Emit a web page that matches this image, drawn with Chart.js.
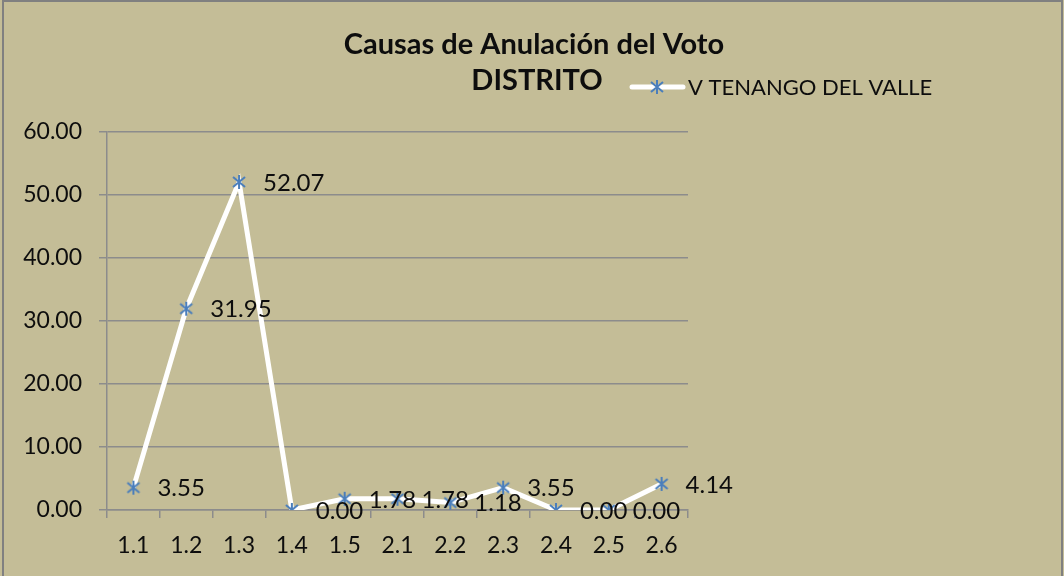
<!DOCTYPE html>
<html>
<head>
<meta charset="utf-8">
<style>
  html, body { margin: 0; padding: 0; background: #C4BD97; }
  #wrap { width: 1064px; height: 576px; }
</style>
</head>
<body>
<div id="wrap"><canvas id="myChart" width="1064" height="576"></canvas></div>

<script src="https://cdn.jsdelivr.net/npm/chart.js"></script>
<script>
  const categories = ['1.1', '1.2', '1.3', '1.4', '1.5', '2.1', '2.2', '2.3', '2.4', '2.5', '2.6'];
  const valores = [3.55, 31.95, 52.07, 0.00, 1.78, 1.78, 1.18, 3.55, 0.00, 0.00, 4.14];
  const serieNombre = 'V TENANGO DEL VALLE';
  const titulo = ['Causas de Anulación del Voto', 'DISTRITO'];
  const yTicks = [0, 10, 20, 30, 40, 50, 60];

  const fuente = 'Lato, "Open Sans", sans-serif';
  const azul = '#4A7EBB';
  const gris = '#8C8C8C';
  const negro = '#0D0D0D';

  // marcador tipo asterisco (X + línea vertical), como en Excel
  const marca = document.createElement('canvas');
  marca.width = 16; marca.height = 16;
  (function () {
    const c = marca.getContext('2d');
    c.strokeStyle = azul;
    c.lineWidth = 2;
    c.beginPath();
    c.moveTo(8, 1); c.lineTo(8, 15);
    c.moveTo(2, 3); c.lineTo(14, 13);
    c.moveTo(14, 3); c.lineTo(2, 13);
    c.stroke();
  })();

  const fondo = {
    id: 'fondo',
    beforeDraw(chart) {
      const ctx = chart.ctx;
      ctx.save();
      ctx.fillStyle = '#C4BD97';
      ctx.fillRect(0, 0, chart.width, chart.height);
      ctx.strokeStyle = '#808080';
      ctx.lineWidth = 2;
      ctx.beginPath();
      ctx.moveTo(3, chart.height);
      ctx.lineTo(3, 1);
      ctx.lineTo(1062, 1);
      ctx.lineTo(1062, chart.height);
      ctx.stroke();

      // título (centrado en todo el lienzo, no en el área del gráfico)
      ctx.fillStyle = negro;
      ctx.textAlign = 'center';
      ctx.textBaseline = 'middle';
      ctx.font = 'bold 29px ' + fuente;
      ctx.fillText(titulo[0], 534, 45);
      ctx.fillText(titulo[1], 537, 81);
      ctx.restore();
    }
  };

  // etiquetas de datos y leyenda junto a "DISTRITO"
  const extras = {
    id: 'extras',
    afterDatasetsDraw(chart) {
      const ctx = chart.ctx;
      const meta = chart.getDatasetMeta(0);
      ctx.save();
      ctx.font = '24px ' + fuente;
      ctx.fillStyle = negro;
      ctx.textBaseline = 'middle';
      ctx.textAlign = 'left';
      meta.data.forEach((p, i) => {
        ctx.fillText(valores[i].toFixed(2), p.x + 24, p.y + 1);
      });

      // leyenda
      const ly = 87;
      ctx.strokeStyle = '#FFFFFF';
      ctx.lineWidth = 5;
      ctx.lineCap = 'round';
      ctx.beginPath();
      ctx.moveTo(632, ly);
      ctx.lineTo(683, ly);
      ctx.stroke();
      ctx.drawImage(marca, 657 - 8, ly - 8);
      ctx.font = '22px ' + fuente;
      ctx.fillText(serieNombre, 688, ly + 1);
      ctx.restore();
    }
  };

  new Chart(document.getElementById('myChart').getContext('2d'), {
    type: 'line',
    data: {
      labels: categories,
      datasets: [{
        label: serieNombre,
        data: valores,
        borderColor: '#FFFFFF',
        borderWidth: 5,
        tension: 0,
        pointStyle: marca,
        pointRadius: 8,
        pointHoverRadius: 8
      }]
    },
    plugins: [fondo, extras],
    options: {
      responsive: false,
      animation: false,
      layout: { padding: { top: 132, left: 0, right: 376, bottom: 0 } },
      plugins: {
        legend: { display: false },
        tooltip: { enabled: false },
        title: { display: false }
      },
      scales: {
        x: {
          offset: true,
          grid: { offset: true, drawOnChartArea: false, drawTicks: true, tickLength: 8, color: gris, lineWidth: 1.5 },
          border: { color: gris, width: 1.5 },
          ticks: { color: negro, font: { family: fuente, size: 23 }, padding: 14, maxRotation: 0 },
          afterFit(scale) { scale.height = 66; }
        },
        y: {
          min: 0,
          max: 60,
          afterBuildTicks(scale) { scale.ticks = yTicks.map(v => ({ value: v })); },
          grid: { color: gris, lineWidth: 1.5, tickLength: 8 },
          border: { color: gris, width: 1.5 },
          ticks: {
            color: negro,
            font: { family: fuente, size: 23 },
            padding: 17,
            callback: v => Number(v).toFixed(2)
          },
          afterFit(scale) { scale.width = 107; }
        }
      }
    }
  });
</script>
</body>
</html>
